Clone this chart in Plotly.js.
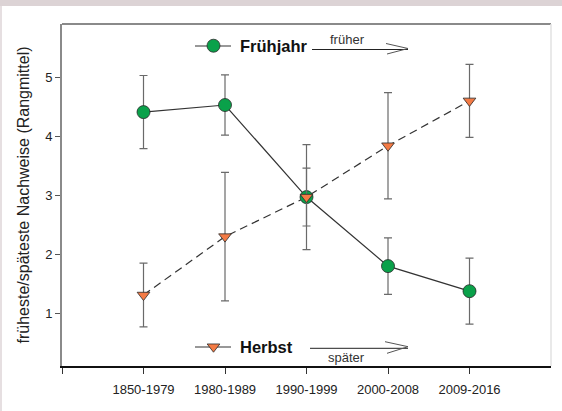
<!DOCTYPE html>
<html>
<head>
<meta charset="utf-8">
<script src="https://cdn.plot.ly/plotly-3.0.1.min.js"></script>
<style>
  html, body { margin: 0; padding: 0; background: #ffffff; }
  #chart { width: 562px; height: 411px; }
</style>
</head>
<body>
<div id="chart"></div>
<script>
// ---- data ----
const periods = ["1850-1979", "1980-1989", "1990-1999", "2000-2008", "2009-2016"];
const fruehjahrName = "Frühjahr";
const fruehjahrValues = [4.41, 4.53, 2.97, 1.80, 1.375];
const fruehjahrErrors = [0.62, 0.51, 0.49, 0.48, 0.56];
const herbstName = "Herbst";
const herbstValues = [1.31, 2.30, 2.97, 3.84, 4.60];
const herbstErrors = [0.54, 1.09, 0.89, 0.90, 0.62];
const yTickValues = [1, 2, 3, 4, 5];
const yTitle = "früheste/späteste Nachweise (Rangmittel)";
const earlierLabel = "früher";
const laterLabel = "später";

// ---- layout helpers (pixel -> paper) ----
const W = 562, H = 411;
const M = { l: 62, r: 11, t: 24, b: 45 };
const PW = W - M.l - M.r, PH = H - M.t - M.b;
const px = x => (x - M.l) / PW;
const py = y => (H - M.b - y) / PH;

const FONT = "Arial, 'Liberation Sans', Helvetica, sans-serif";
const idx = periods.map((_, i) => i);

const errStyle = { color: "#6a6a6a", thickness: 1.2, width: 4 };

const traces = [
  // connecting lines (no legend)
  {
    x: idx, y: fruehjahrValues, type: "scatter", mode: "lines", showlegend: false, hoverinfo: "skip",
    line: { color: "#333333", width: 1.2 }
  },
  {
    x: idx, y: herbstValues, type: "scatter", mode: "lines", showlegend: false, hoverinfo: "skip",
    line: { color: "#333333", width: 1.2, dash: "8px,5px" }
  },
  // markers with error bars
  {
    x: idx, y: fruehjahrValues, name: fruehjahrName,
    type: "scatter", mode: "markers",
    marker: { symbol: "circle", size: 13, color: "#0aa14a", line: { color: "#2a2a2a", width: 0.8 } },
    error_y: Object.assign({ type: "data", array: fruehjahrErrors, visible: true }, errStyle),
    legend: "legend"
  },
  {
    x: idx, y: herbstValues, name: herbstName,
    type: "scatter", mode: "markers",
    marker: { symbol: "triangle-down", size: 11, color: "#f47b45", line: { color: "#2a2a2a", width: 0.8 } },
    error_y: Object.assign({ type: "data", array: herbstErrors, visible: true }, errStyle),
    legend: "legend2"
  }
];

function seg(x0, y0, x1, y1, color, width) {
  return { type: "line", xref: "paper", yref: "paper",
           x0: px(x0), y0: py(y0), x1: px(x1), y1: py(y1),
           line: { color: color, width: width } };
}

const legTopY = 46, legBotY = 347;

const shapes = [
  // page decoration
  { type: "rect", xref: "paper", yref: "paper", x0: px(0), x1: px(562), y0: py(0), y1: py(6),
    fillcolor: "#dcd3d5", line: { width: 0 }, layer: "below" },
  { type: "rect", xref: "paper", yref: "paper", x0: px(0), x1: px(2), y0: py(6), y1: py(411),
    fillcolor: "#e6dfe1", line: { width: 0 }, layer: "below" },
  // frame top and right
  seg(62, 24, 551, 24, "#8a8a8a", 2),
  seg(551, 24, 551, 366, "#e2e2e2", 1.5),
  // legend line stubs
  Object.assign(seg(195, legTopY, 231, legTopY, "#333333", 1.2), { layer: "below" }),
  Object.assign(seg(195, legBotY, 231, legBotY, "#333333", 1.2), { layer: "below" }),
  // top arrow (früher)
  seg(312, 49.5, 408, 49.5, "#222222", 1),
  seg(386, 43.5, 408, 48.5, "#555555", 1),
  seg(408, 48.5, 387, 54, "#555555", 1),
  // bottom arrow (später)
  seg(310, 348.3, 408, 348.3, "#222222", 1),
  seg(385, 341.7, 408, 346.7, "#555555", 1),
  seg(408, 346.7, 387, 353.3, "#555555", 1)
];

const annotations = [
  { xref: "paper", yref: "paper", x: px(347), y: py(39), text: earlierLabel, showarrow: false,
    xanchor: "center", yanchor: "middle", font: { family: FONT, size: 13, color: "#333333" } },
  { xref: "paper", yref: "paper", x: px(346), y: py(357), text: laterLabel, showarrow: false,
    xanchor: "center", yanchor: "middle", font: { family: FONT, size: 13, color: "#333333" } }
];

const legendFont = { family: FONT, size: 16.5, color: "#111111", weight: "bold" };

const layout = {
  width: W, height: H,
  margin: M,
  paper_bgcolor: "#ffffff",
  plot_bgcolor: "#ffffff",
  font: { family: FONT, size: 13, color: "#222222" },
  showlegend: true,
  legend: { x: px(187), y: py(legTopY), xanchor: "left", yanchor: "middle", itemwidth: 43,
            bgcolor: "rgba(0,0,0,0)", borderwidth: 0, font: legendFont },
  legend2: { x: px(187), y: py(legBotY), xanchor: "left", yanchor: "middle", itemwidth: 43,
             bgcolor: "rgba(0,0,0,0)", borderwidth: 0, font: legendFont },
  xaxis: {
    range: [-1, 5],
    tickmode: "array",
    tickvals: [-1].concat(idx),
    ticktext: [""].concat(periods),
    showgrid: false, zeroline: false,
    showline: true, linecolor: "#111111", linewidth: 1.5,
    ticks: "outside", ticklen: 6, tickcolor: "#333333", tickwidth: 1,
    ticklabelstandoff: 5,
    tickfont: { family: FONT, size: 13, color: "#222222" },
    fixedrange: true
  },
  yaxis: {
    range: [0.107, 5.903],
    tickmode: "array",
    tickvals: yTickValues,
    showgrid: false, zeroline: false,
    showline: true, linecolor: "#8a8a8a", linewidth: 2,
    ticks: "outside", ticklen: 5, tickcolor: "#555555", tickwidth: 1,
    tickfont: { family: FONT, size: 13, color: "#222222" },
    title: { text: yTitle, font: { family: FONT, size: 16, color: "#222222" }, standoff: 12 },
    fixedrange: true
  },
  shapes: shapes,
  annotations: annotations
};

Plotly.newPlot("chart", traces, layout, { displayModeBar: false, staticPlot: true });
</script>
</body>
</html>
